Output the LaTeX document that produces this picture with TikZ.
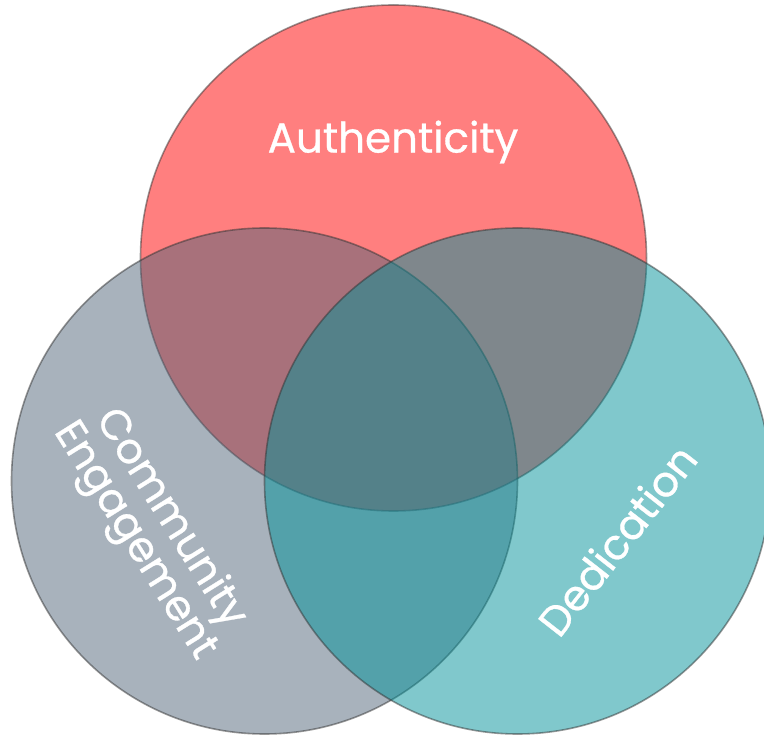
\documentclass[tikz,border=0pt]{standalone}
\usepackage{fontspec}
\setmainfont{Poppins}[FakeBold=0.7]
\definecolor{redc}{RGB}{255,0,0}
\definecolor{greyc}{RGB}{81,101,121}
\definecolor{tealc}{RGB}{1,145,153}
\definecolor{edgec}{RGB}{50,50,50}
\tikzset{
  venn/.style={draw=edgec, line width=1.6pt, opacity=0.5},
  lbl/.style={text=white, font=\fontsize{42}{48}\selectfont, align=center, inner sep=0pt}
}
\begin{document}
\begin{tikzpicture}[x=1pt,y=-1pt]
\useasboundingbox (0,0) rectangle (764,735);
\clip (0,0) rectangle (764,735);
\path[venn, fill=redc] (393.5,258) circle[radius=253] coordinate (ctop);
\path[venn, fill=greyc] (264.5,481) circle[radius=253] coordinate (cleft);
\path[venn, fill=tealc] (517.5,481) circle[radius=253] coordinate (cright);
\node[lbl] (auth) at (393,142) {Authenticity};
\node[lbl, rotate=-58] (comm) at (152,530) {Community\\[-6pt]Engagement};
\node[lbl, rotate=52] (ded) at (617,540) {Dedication};
\end{tikzpicture}
\end{document}
